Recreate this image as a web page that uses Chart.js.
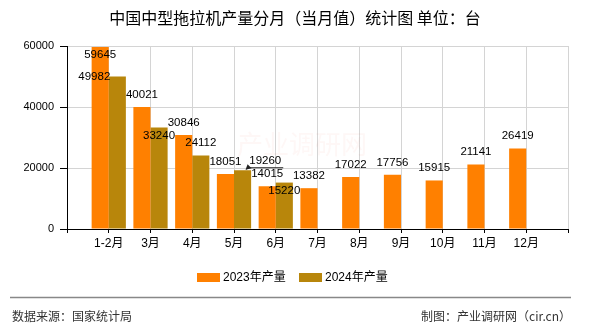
<!DOCTYPE html>
<html>
<head>
<meta charset="utf-8">
<script src="https://cdn.jsdelivr.net/npm/chart.js@4.4.0/dist/chart.umd.min.js"></script>
<style>
  html, body { margin: 0; padding: 0; background: #fff; }
  #wrap { width: 590px; height: 330px; }
</style>
</head>
<body>
<div id="wrap"><canvas id="monthChart" width="590" height="330"></canvas></div>
<script>
// 数据
const months = ['1-2月', '3月', '4月', '5月', '6月', '7月', '8月', '9月', '10月', '11月', '12月'];
const output2023 = [59645, 40021, 30846, 18051, 14015, 13382, 17022, 17756, 15915, 21141, 26419];
const output2024 = [49982, 33240, 24112, 19260, 15220];
const yTicks = [0, 20000, 40000, 60000];
const seriesNames = ['2023年产量', '2024年产量'];
const seriesColors = ['#ff8000', '#b8860b'];

// 标签微调（相对默认位置的偏移）
const labelNudge = [
  { '1-2月': [0, 20.5] },
  { '1-2月': [-23, 12.5], '3月': [0, 21], '5月': [22.7, 3], '6月': [0, 20.5] }
];
const leaderLabels = [{ series: 1, month: '5月' }];

// 两端留空位
const labels = [''].concat(months, ['']);
const pad = arr => [null].concat(arr, new Array(months.length - arr.length + 1).fill(null));

const numFont = '"Liberation Sans", "Noto Sans CJK SC", sans-serif';
const cjkFont = '"Noto Sans CJK SC", "Liberation Sans", sans-serif';

const decorPlugin = {
  id: 'decor',
  beforeDraw(chart) {
    const ctx = chart.ctx;
    ctx.save();
    ctx.fillStyle = '#fff';
    ctx.fillRect(0, 0, chart.width, chart.height);
    ctx.restore();
  },
  beforeDatasetsDraw(chart) {
    // 水印
    const ctx = chart.ctx;
    ctx.save();
    ctx.font = '26px ' + cjkFont;
    ctx.fillStyle = 'rgba(235, 120, 110, 0.06)';
    ctx.textAlign = 'center';
    ctx.textBaseline = 'middle';
    ctx.fillText('产业调研网', 302, 144);
    ctx.restore();
  },
  afterDatasetsDraw(chart) {
    const ctx = chart.ctx;
    ctx.save();
    ctx.font = '11.5px ' + numFont;
    ctx.fillStyle = '#000';
    ctx.textAlign = 'center';
    ctx.textBaseline = 'middle';
    chart.data.datasets.forEach((ds, di) => {
      const meta = chart.getDatasetMeta(di);
      meta.data.forEach((el, i) => {
        const v = ds.data[i];
        if (v == null) return;
        const m = labels[i];
        const n = labelNudge[di][m] || [0, 0];
        const x = el.x + n[0];
        const y = el.y - 12.5 + n[1];
        ctx.fillText(String(v), x, y);
        if (leaderLabels.some(l => l.series === di && l.month === m)) {
          const w = ctx.measureText(String(v)).width;
          ctx.strokeStyle = '#222';
          ctx.lineWidth = 1;
          ctx.beginPath();
          ctx.moveTo(el.x + 4, el.y - 1);
          ctx.lineTo(x - w / 2 - 1, y + 7);
          ctx.lineTo(x + w / 2 + 2, y + 7);
          ctx.stroke();
          ctx.fillStyle = '#222';
          ctx.beginPath();
          ctx.moveTo(el.x + 3, el.y - 0.5);
          ctx.lineTo(el.x + 5, el.y - 6);
          ctx.lineTo(el.x + 9, el.y - 2);
          ctx.closePath();
          ctx.fill();
          ctx.fillStyle = '#000';
        }
      });
    });
    ctx.restore();
  },
  afterDraw(chart) {
    const ctx = chart.ctx;
    ctx.save();
    // 标题
    ctx.fillStyle = '#000';
    ctx.font = '16px ' + cjkFont;
    ctx.textAlign = 'center';
    ctx.textBaseline = 'middle';
    ctx.fillText('中国中型拖拉机产量分月（当月值）统计图 单位：台', 295, 18);

    // 图例
    ctx.font = '12px ' + numFont;
    ctx.textAlign = 'left';
    let lx = 197;
    seriesNames.forEach((name, i) => {
      ctx.fillStyle = seriesColors[i];
      ctx.fillRect(lx, 273, 23, 9);
      ctx.fillStyle = '#000';
      ctx.fillText(name, lx + 26, 278);
      lx += 102;
    });

    // 底部
    ctx.strokeStyle = '#888';
    ctx.lineWidth = 1.5;
    ctx.beginPath();
    ctx.moveTo(10, 297.5);
    ctx.lineTo(571, 297.5);
    ctx.stroke();
    ctx.fillStyle = '#333';
    ctx.font = '12px ' + cjkFont;
    ctx.textAlign = 'left';
    ctx.fillText('数据来源：国家统计局', 12, 316);
    ctx.textAlign = 'right';
    ctx.fillText('制图：产业调研网（cir.cn）', 571, 316);
    ctx.restore();
  }
};

function createChart() {
  const ctx = document.getElementById('monthChart').getContext('2d');
  new Chart(ctx, {
    type: 'bar',
    data: {
      labels: labels,
      datasets: [
        { label: seriesNames[0], data: pad(output2023), backgroundColor: seriesColors[0] },
        { label: seriesNames[1], data: pad(output2024), backgroundColor: seriesColors[1] }
      ]
    },
    options: {
      responsive: false,
      animation: false,
      devicePixelRatio: 1,
      categoryPercentage: 0.82,
      barPercentage: 1.0,
      layout: { padding: { left: 0, top: 46, right: 22, bottom: 0 } },
      plugins: {
        legend: { display: false },
        title: { display: false },
        tooltip: { enabled: false }
      },
      scales: {
        x: {
          offset: false,
          grid: { offset: false, color: '#d4d4d4', tickColor: '#000', tickLength: 4 },
          border: { color: '#000', width: 1 },
          ticks: {
            autoSkip: false, maxRotation: 0, padding: 3,
            color: '#000', font: { size: 12, family: numFont }
          },
          afterFit(scale) { scale.height = 101; }
        },
        y: {
          min: yTicks[0],
          max: yTicks[yTicks.length - 1],
          afterBuildTicks(scale) { scale.ticks = yTicks.map(v => ({ value: v })); },
          grid: { color: '#d4d4d4', tickColor: '#000', tickLength: 7 },
          border: { color: '#000', width: 1 },
          ticks: {
            padding: 6, color: '#000',
            font: { size: 11, family: '"Liberation Sans Narrow", "Liberation Sans", sans-serif' },
            callback: v => String(v)
          },
          afterFit(scale) { scale.width = 67; }
        }
      }
    },
    plugins: [decorPlugin]
  });
}

createChart();
</script>
</body>
</html>
